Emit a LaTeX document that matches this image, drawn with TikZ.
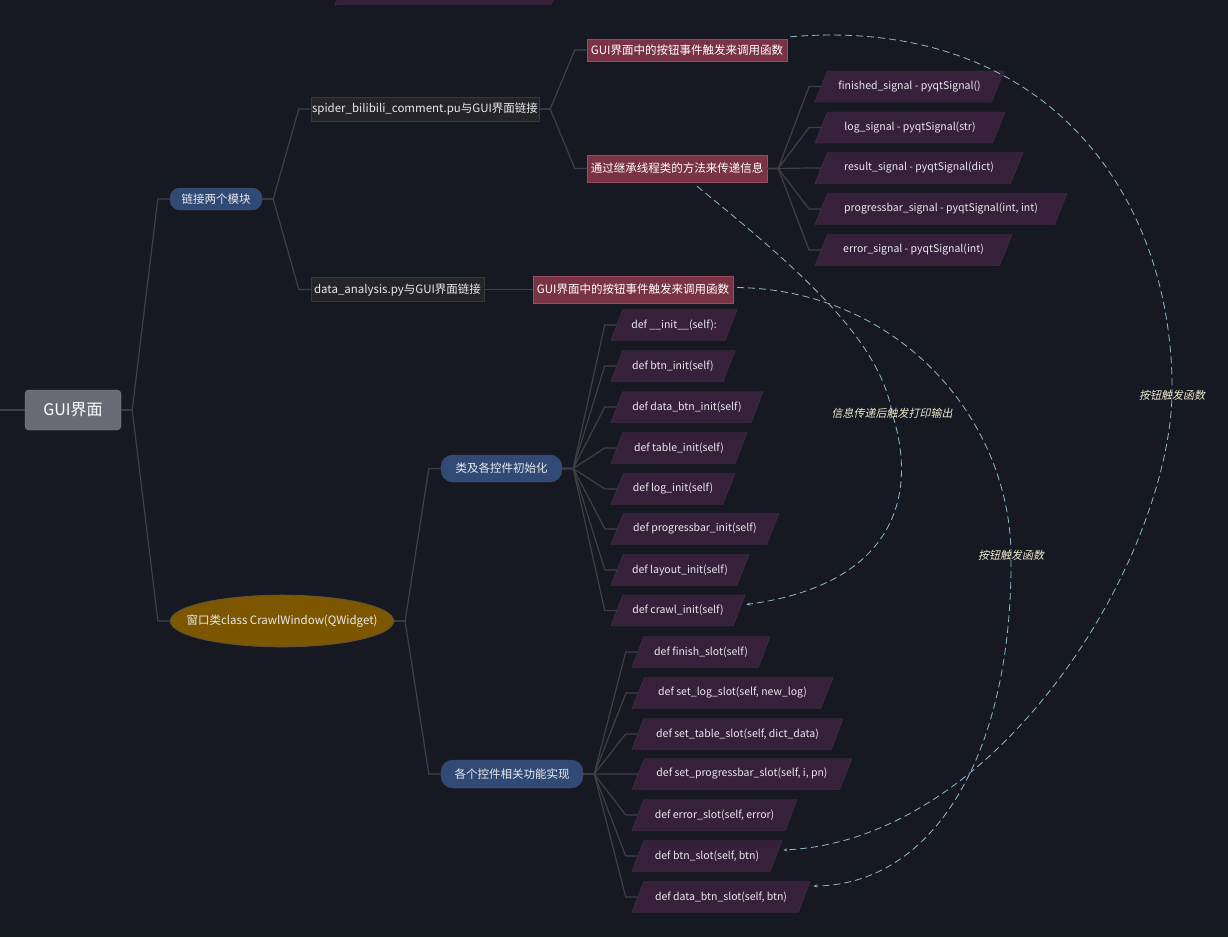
\documentclass[tikz,border=0pt]{standalone}
\usepackage{fontspec}
\setmainfont{Noto Sans CJK SC}
\newfontfamily\slantcjk[FakeSlant=0.2]{Noto Sans CJK SC}
\usepackage{tikz}
\usetikzlibrary{positioning}
\usetikzlibrary{arrows.meta}
\usetikzlibrary{shapes,calc}
\definecolor{bgdark}{RGB}{23,25,34}
\definecolor{linegray}{RGB}{62,64,72}
\definecolor{rootgray}{RGB}{105,108,118}
\definecolor{pillblue}{RGB}{49,74,117}
\definecolor{pillline}{RGB}{64,78,104}
\definecolor{classbrown}{RGB}{125,86,0}
\definecolor{classline}{RGB}{96,82,62}
\definecolor{modgray}{RGB}{37,37,39}
\definecolor{modline}{RGB}{56,56,60}
\definecolor{eventred}{RGB}{121,51,69}
\definecolor{eventline}{RGB}{150,78,96}
\definecolor{methpurple}{RGB}{54,32,58}
\definecolor{methline}{RGB}{70,54,78}
\definecolor{flowblue}{RGB}{140,185,205}
\definecolor{labelcream}{RGB}{236,233,208}
\definecolor{textwhite}{RGB}{234,234,238}

\tikzset{
  cjktext/.style={font=\fontsize{11.5}{13}\selectfont, text=textwhite},
  codetext/.style={font=\fontsize{10.5}{12}\selectfont, text=textwhite},
  branch/.style={draw=linegray, line width=1.2pt,
    to path={-- ++(11,0) -- ([xshift=-12pt]\tikztotarget) -- (\tikztotarget)}},
  flow/.style={draw=flowblue, line width=0.8pt, dash pattern=on 7pt off 4pt,
    -{Stealth[length=4pt,width=3pt]}},
  flowlabel/.style={font=\slantcjk\fontsize{11}{13}\selectfont, text=labelcream}
}

\begin{document}
\begin{tikzpicture}[x=1pt,y=-1pt]
        \useasboundingbox (0,0) rectangle (1228,937);
        \fill[bgdark] (0,0) rectangle (1228,937);
        \clip (0,0) rectangle (1228,937);

        % root and first level
        \node[fill=rootgray, draw=rootgray!80!white, rounded corners=4pt,
              minimum width=96, minimum height=40, inner sep=0,
              font=\fontsize{16}{18}\selectfont, text=white] (gui) at (73,410) {GUI界面};
        \coordinate (lefttip) at (0,410);
        \node[cjktext, fill=pillblue, draw=pillline, rounded corners=10pt,
              minimum width=92, minimum height=22, inner sep=0] (link) at (216,199) {链接两个模块};
        \node[cjktext, ellipse, fill=classbrown, draw=classline, thick,
              inner xsep=-16.5pt, inner ysep=12pt] (crawlwin) at (282,621) {窗口类class CrawlWindow(QWidget)};

        % modules and events
        \begin{scope}[every node/.style={cjktext, fill=modgray, draw=modline, inner sep=0, minimum height=24}]
            \node[minimum width=228] (spider) at (425,109) {spider\_bilibili\_comment.pu与GUI界面链接};
            \node[minimum width=173] (dataan) at (397.5,289.5) {data\_analysis.py与GUI界面链接};
        \end{scope}
        \begin{scope}[every node/.style={cjktext, text=white, fill=eventred, draw=eventline, inner sep=0}]
            \node[minimum width=200, minimum height=22] (btnevent) at (687,50) {GUI界面中的按钮事件触发来调用函数};
            \node[minimum width=180, minimum height=27] (threadmsg) at (677,168.5) {通过继承线程类的方法来传递信息};
            \node[minimum width=200, minimum height=27] (dataevent) at (633,289.5) {GUI界面中的按钮事件触发来调用函数};
        \end{scope}
        \begin{scope}[every node/.style={cjktext, fill=pillblue, draw=pillline, rounded corners=12pt, inner sep=0}]
            \node[minimum width=121, minimum height=27] (initpill) at (501.5,468.5) {类及各控件初始化};
            \node[minimum width=142, minimum height=28] (slotpill) at (512,774) {各个控件相关功能实现};
        \end{scope}

        % signals, init and slot methods
        \begin{scope}[every node/.style={codetext, trapezium, trapezium left angle=42, trapezium right angle=138,
                      trapezium stretches body=true, fill=methpurple, draw=methline, inner sep=0, minimum height=31}]
            \node[minimum width=228] (topcut) at (449,-11) {\phantom{()}};
            \node[minimum width=189] (finsig) at (909.5,86.5) {finished\_signal - pyqtSignal()};
            \node[minimum width=190] (logsig) at (910,127.5) {log\_signal - pyqtSignal(str)};
            \node[minimum width=208] (ressig) at (919,168) {result\_signal - pyqtSignal(dict)};
            \node[minimum width=252] (progsig) at (941,209) {progressbar\_signal - pyqtSignal(int, int)};
            \node[minimum width=197] (errsig) at (913.5,250) {error\_signal - pyqtSignal(int)};

            \node[minimum width=126] (selfinit) at (674,325) {def \_\_init\_\_(self):};
            \node[minimum width=124] (btninit) at (673,366) {def btn\_init(self)};
            \node[minimum width=152] (databtninit) at (687,407) {def data\_btn\_init(self)};
            \node[minimum width=136] (tableinit) at (679,448) {def table\_init(self)};
            \node[minimum width=124] (loginit) at (673,489) {def log\_init(self)};
            \node[minimum width=168] (proginit) at (695,529) {def progressbar\_init(self)};
            \node[minimum width=138] (layoutinit) at (680,570) {def layout\_init(self)};
            \node[minimum width=134] (crawlinit) at (678,610.5) {def crawl\_init(self)};

            \node[minimum width=138] (finslot) at (701,652) {def finish\_slot(self)};
            \node[minimum width=201] (logslot) at (732.5,693) {def set\_log\_slot(self, new\_log)};
            \node[minimum width=211] (tableslot) at (737.5,734) {def set\_table\_slot(self, dict\_data)};
            \node[minimum width=220] (progslot) at (742,774) {def set\_progressbar\_slot(self, i, pn)};
            \node[minimum width=165] (errslot) at (714.5,815) {def error\_slot(self, error)};
            \node[minimum width=150] (btnslot) at (707,856) {def btn\_slot(self, btn)};
            \node[minimum width=178] (databtnslot) at (721,897) {def data\_btn\_slot(self, btn)};
        \end{scope}

        % tree branches
        \draw[draw=linegray, line width=1.2pt] (lefttip) -- (gui.west);
        \path (gui.east) edge[branch] (link.west)
              (gui.east) edge[branch] (crawlwin.west)
              (link.east) edge[branch] (spider.west)
              (link.east) edge[branch] (dataan.west)
              (spider.east) edge[branch] (btnevent.west)
              (spider.east) edge[branch] (threadmsg.west)
              (dataan.east) edge[draw=linegray, line width=1.2pt] (dataevent.west)
              (crawlwin.east) edge[branch] (initpill.west)
              (crawlwin.east) edge[branch] (slotpill.west);
        \path (threadmsg.east) edge[branch] (finsig.west)
              (threadmsg.east) edge[branch] (logsig.west)
              (threadmsg.east) edge[branch] (ressig.west)
              (threadmsg.east) edge[branch] (progsig.west)
              (threadmsg.east) edge[branch] (errsig.west);
        \path (initpill.east) edge[branch] (selfinit.west)
              (initpill.east) edge[branch] (btninit.west)
              (initpill.east) edge[branch] (databtninit.west)
              (initpill.east) edge[branch] (tableinit.west)
              (initpill.east) edge[branch] (loginit.west)
              (initpill.east) edge[branch] (proginit.west)
              (initpill.east) edge[branch] (layoutinit.west)
              (initpill.east) edge[branch] (crawlinit.west);
        \path (slotpill.east) edge[branch] (finslot.west)
              (slotpill.east) edge[branch] (logslot.west)
              (slotpill.east) edge[branch] (tableslot.west)
              (slotpill.east) edge[branch] (progslot.west)
              (slotpill.east) edge[branch] (errslot.west)
              (slotpill.east) edge[branch] (btnslot.west)
              (slotpill.east) edge[branch] (databtnslot.west);

        % dashed calls
        \draw[flow] ([xshift=3pt,yshift=2pt]btnevent.north east) .. controls (1050,15) and (1175,200) .. (1172,395)
              node[flowlabel] {按钮触发函数}
              .. controls (1168,560) and (1000,840) .. ([xshift=7pt,yshift=6pt]btnslot.east);
        \draw[flow] ([xshift=4pt,yshift=2pt]dataevent.east) .. controls (900,290) and (1010,420) .. (1011,555)
              node[flowlabel] {按钮触发函数}
              .. controls (1013,760) and (930,885) .. ([xshift=9pt,yshift=11pt]databtnslot.east);
        \draw[flow] ([xshift=20pt,yshift=-4pt]threadmsg.south) .. controls (800,270) and (880,340) .. (892,413)
              node[flowlabel] {信息传递后触发打印输出}
              .. controls (920,500) and (890,585) .. ([xshift=7pt,yshift=6pt]crawlinit.east);
\end{tikzpicture}
\end{document}
